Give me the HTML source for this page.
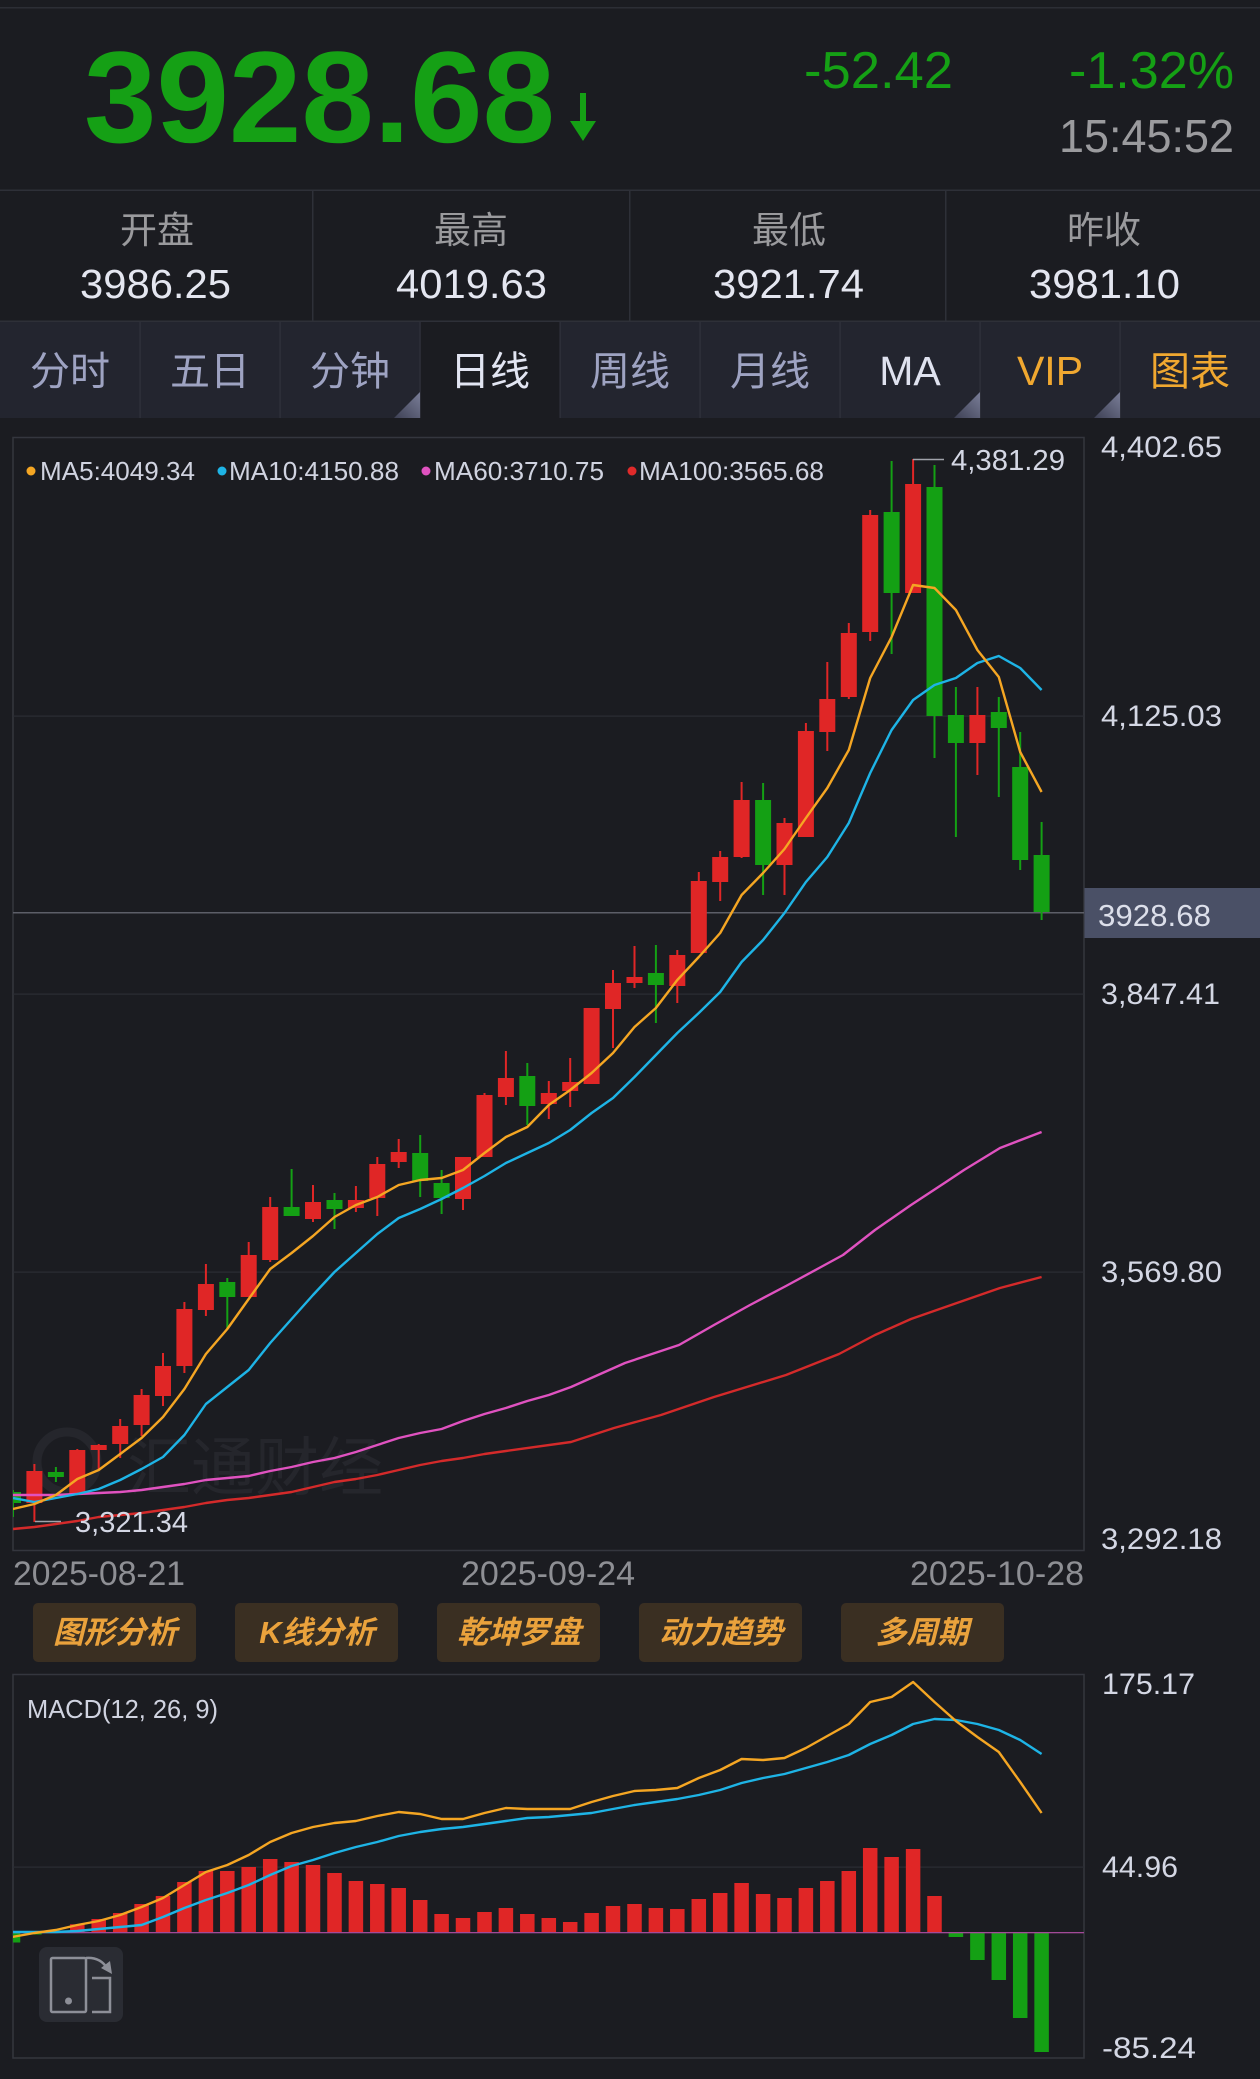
<!DOCTYPE html>
<html><head><meta charset="utf-8"><style>
html,body{margin:0;padding:0;background:#1b1c21;}
body{width:1260px;height:2079px;overflow:hidden;}
svg{display:block;}
text{font-family:"Liberation Sans","Noto Sans CJK SC",sans-serif;}
.cjk{font-family:"Noto Sans CJK SC","WenQuanYi Zen Hei",sans-serif;}
</style></head><body>
<svg width="1260" height="2079" viewBox="0 0 1260 2079" xmlns="http://www.w3.org/2000/svg">
<defs>
<clipPath id="main"><rect x="13" y="438" width="1071" height="1112"/></clipPath>
<clipPath id="macd"><rect x="13" y="1675" width="1071" height="383"/></clipPath>
<linearGradient id="tri" x1="0" y1="1" x2="1" y2="0"><stop offset="0" stop-color="#3d4054"/><stop offset="1" stop-color="#7a7e98"/></linearGradient>
</defs>
<rect x="0" y="0" width="1260" height="2079" fill="#1b1c21"/>
<!-- header -->
<rect x="0" y="7" width="1260" height="1.5" fill="#2c2e35"/>
<text x="84" y="142" font-size="130" font-weight="bold" fill="#15a015" textLength="471" lengthAdjust="spacingAndGlyphs">3928.68</text>
<rect x="580" y="93" width="6" height="32" fill="#15a015"/>
<polygon points="570,121 596,121 583,141" fill="#15a015"/>
<text x="804" y="88" font-size="52" fill="#15a015" textLength="149" lengthAdjust="spacingAndGlyphs">-52.42</text>
<text x="1069" y="88" font-size="52" fill="#15a015" textLength="165" lengthAdjust="spacingAndGlyphs">-1.32%</text>
<text x="1059" y="152" font-size="46" fill="#9b9b9e" textLength="175" lengthAdjust="spacingAndGlyphs">15:45:52</text>
<rect x="0" y="189.5" width="1260" height="1.5" fill="#2e3038"/>
<rect x="312" y="190" width="1.5" height="131" fill="#2e3038"/>
<rect x="629" y="190" width="1.5" height="131" fill="#2e3038"/>
<rect x="945" y="190" width="1.5" height="131" fill="#2e3038"/>
<g class="cjk" font-size="37" fill="#9a9a9d" text-anchor="middle">
<text x="157" y="243">开盘</text><text x="471" y="243">最高</text><text x="789" y="243">最低</text><text x="1104" y="243">昨收</text>
</g>
<g font-size="41" fill="#e4e6f0">
<text x="80" y="298" textLength="151" lengthAdjust="spacingAndGlyphs">3986.25</text>
<text x="396" y="298" textLength="151" lengthAdjust="spacingAndGlyphs">4019.63</text>
<text x="713" y="298" textLength="151" lengthAdjust="spacingAndGlyphs">3921.74</text>
<text x="1029" y="298" textLength="151" lengthAdjust="spacingAndGlyphs">3981.10</text>
</g>
<rect x="0" y="320.5" width="1260" height="1.5" fill="#2e3038"/>
<!-- tabs -->
<rect x="0" y="322" width="1260" height="96" fill="#23252f"/>
<rect x="420" y="322" width="140" height="96" fill="#1b1c21"/>
<g fill="#30323d">
<rect x="139.5" y="322" width="1.2" height="96"/><rect x="279.5" y="322" width="1.2" height="96"/><rect x="419.5" y="322" width="1.2" height="96"/><rect x="559.5" y="322" width="1.2" height="96"/><rect x="699.5" y="322" width="1.2" height="96"/><rect x="839.5" y="322" width="1.2" height="96"/><rect x="979.5" y="322" width="1.2" height="96"/><rect x="1119.5" y="322" width="1.2" height="96"/>
</g>
<polygon points="394,418 420,392 420,418" fill="url(#tri)"/>
<polygon points="954,418 980,392 980,418" fill="url(#tri)"/>
<polygon points="1094,418 1120,392 1120,418" fill="url(#tri)"/>
<g class="cjk" font-size="40" text-anchor="middle" fill="#9ea3c2">
<text x="70" y="385">分时</text><text x="210" y="385">五日</text><text x="350" y="385">分钟</text>
<text x="490" y="385" fill="#e2e5f2">日线</text>
<text x="630" y="385">周线</text><text x="770" y="385">月线</text>
</g>
<text x="910" y="385" font-size="41" text-anchor="middle" fill="#dfe2ef">MA</text>
<text x="1050" y="385" font-size="41" text-anchor="middle" fill="#f0a830">VIP</text>
<text x="1190" y="385" class="cjk" font-size="40" text-anchor="middle" fill="#f0a830">图表</text>

<!-- main chart frame -->
<rect x="13" y="437.5" width="1071" height="1113" fill="none" stroke="#34363e" stroke-width="1.5"/>
<g fill="#2b2d34">
<rect x="13" y="715.5" width="1071" height="1.2"/><rect x="13" y="993.5" width="1071" height="1.2"/><rect x="13" y="1271.5" width="1071" height="1.2"/>
</g>
<!-- watermark -->
<circle cx="67" cy="1462" r="30" fill="none" stroke="#25262c" stroke-width="9"/>
<text x="127" y="1490" class="cjk" font-size="64" fill="#25262c">汇通财经</text>
<rect x="13" y="912" width="1071" height="1.5" fill="#5c5e68"/>

<g clip-path="url(#main)">
<g fill="#e02626">
<rect x="33.4" y="1464" width="2" height="58"/><rect x="26.4" y="1471" width="16" height="32"/>
<rect x="76.3" y="1449" width="2" height="45"/><rect x="69.3" y="1450" width="16" height="44"/>
<rect x="97.7" y="1444" width="2" height="25"/><rect x="90.7" y="1445" width="16" height="5"/>
<rect x="119.2" y="1419" width="2" height="39"/><rect x="112.2" y="1426" width="16" height="18"/>
<rect x="140.6" y="1389" width="2" height="47"/><rect x="133.6" y="1395" width="16" height="30"/>
<rect x="162" y="1353" width="2" height="53"/><rect x="155" y="1366" width="16" height="30"/>
<rect x="183.4" y="1302" width="2" height="71"/><rect x="176.4" y="1309" width="16" height="57"/>
<rect x="204.9" y="1264" width="2" height="52"/><rect x="197.9" y="1284" width="16" height="26"/>
<rect x="247.7" y="1242" width="2" height="55"/><rect x="240.7" y="1255" width="16" height="42"/>
<rect x="269.2" y="1197" width="2" height="65"/><rect x="262.2" y="1207" width="16" height="53"/>
<rect x="312" y="1185" width="2" height="37"/><rect x="305" y="1202" width="16" height="17"/>
<rect x="354.9" y="1186" width="2" height="26"/><rect x="347.9" y="1200" width="16" height="8"/>
<rect x="376.3" y="1157" width="2" height="59"/><rect x="369.3" y="1164" width="16" height="34"/>
<rect x="397.7" y="1139" width="2" height="29"/><rect x="390.7" y="1152" width="16" height="10"/>
<rect x="462" y="1157" width="2" height="53"/><rect x="455" y="1157" width="16" height="42"/>
<rect x="483.5" y="1093" width="2" height="64"/><rect x="476.5" y="1095" width="16" height="62"/>
<rect x="504.9" y="1051" width="2" height="54"/><rect x="497.9" y="1078" width="16" height="19"/>
<rect x="547.8" y="1081" width="2" height="38"/><rect x="540.8" y="1093" width="16" height="11"/>
<rect x="569.2" y="1058" width="2" height="49"/><rect x="562.2" y="1082" width="16" height="9"/>
<rect x="590.6" y="1008" width="2" height="76"/><rect x="583.6" y="1008" width="16" height="76"/>
<rect x="612" y="970" width="2" height="78"/><rect x="605" y="983" width="16" height="26"/>
<rect x="633.5" y="946" width="2" height="42"/><rect x="626.5" y="977" width="16" height="6"/>
<rect x="676.3" y="950" width="2" height="53"/><rect x="669.3" y="955" width="16" height="31"/>
<rect x="697.8" y="872" width="2" height="81"/><rect x="690.8" y="881" width="16" height="72"/>
<rect x="719.2" y="851" width="2" height="50"/><rect x="712.2" y="857" width="16" height="25"/>
<rect x="740.6" y="782" width="2" height="76"/><rect x="733.6" y="800" width="16" height="57"/>
<rect x="783.5" y="818" width="2" height="77"/><rect x="776.5" y="823" width="16" height="42"/>
<rect x="804.9" y="723" width="2" height="114"/><rect x="797.9" y="731" width="16" height="106"/>
<rect x="826.3" y="662" width="2" height="89"/><rect x="819.3" y="699" width="16" height="33"/>
<rect x="847.8" y="623" width="2" height="76"/><rect x="840.8" y="633" width="16" height="64"/>
<rect x="869.2" y="510" width="2" height="131"/><rect x="862.2" y="515" width="16" height="117"/>
<rect x="912.1" y="459" width="2" height="134"/><rect x="905.1" y="484" width="16" height="109"/>
<rect x="976.4" y="687" width="2" height="88"/><rect x="969.4" y="715" width="16" height="28"/>
</g>
<g fill="#14a014">
<rect x="12" y="1490" width="2" height="27"/><rect x="5" y="1492" width="16" height="11"/>
<rect x="54.9" y="1467" width="2" height="15"/><rect x="47.9" y="1472" width="16" height="5"/>
<rect x="226.3" y="1278" width="2" height="51"/><rect x="219.3" y="1282" width="16" height="15"/>
<rect x="290.6" y="1169" width="2" height="47"/><rect x="283.6" y="1207" width="16" height="9"/>
<rect x="333.5" y="1193" width="2" height="36"/><rect x="326.5" y="1200" width="16" height="9"/>
<rect x="419.2" y="1135" width="2" height="62"/><rect x="412.2" y="1153" width="16" height="28"/>
<rect x="440.6" y="1170" width="2" height="44"/><rect x="433.6" y="1183" width="16" height="15"/>
<rect x="526.3" y="1063" width="2" height="62"/><rect x="519.3" y="1076" width="16" height="30"/>
<rect x="654.9" y="945" width="2" height="78"/><rect x="647.9" y="973" width="16" height="12"/>
<rect x="762.1" y="783" width="2" height="112"/><rect x="755.1" y="800" width="16" height="65"/>
<rect x="890.6" y="461" width="2" height="193"/><rect x="883.6" y="512" width="16" height="81"/>
<rect x="933.5" y="465" width="2" height="293"/><rect x="926.5" y="487" width="16" height="229"/>
<rect x="954.9" y="687" width="2" height="150"/><rect x="947.9" y="715" width="16" height="28"/>
<rect x="997.8" y="697" width="2" height="100"/><rect x="990.8" y="712" width="16" height="16"/>
<rect x="1019.2" y="732" width="2" height="138"/><rect x="1012.2" y="767" width="16" height="93"/>
<rect x="1040.6" y="822" width="2" height="98"/><rect x="1033.6" y="855" width="16" height="57"/>
</g>
<g fill="none" stroke-width="2.4" stroke-linejoin="round">
<polyline stroke="#d42a2a" points="13,1529 34.4,1527 55.9,1524 77.3,1521 98.7,1517 120.2,1515 141.6,1513 163,1510 184.4,1507 205.9,1503 227.3,1500 248.7,1498 270.2,1495 291.6,1492 313,1487 334.5,1482 355.9,1479 377.3,1475 398.7,1470 420.2,1465 441.6,1461 463,1458 484.5,1454 505.9,1451 571,1442 614,1428 661,1415 714,1397 786,1375 839,1354 875,1335 911,1319 954,1304 1000,1288 1041.6,1277"/>
<polyline stroke="#e052c0" points="13,1495 34.4,1495 55.9,1495 77.3,1494 98.7,1493 120.2,1492 141.6,1490 163,1487 184.4,1484 205.9,1480 227.3,1478 248.7,1476 270.2,1471 291.6,1467 313,1462 334.5,1458 355.9,1452 377.3,1445 398.7,1438 420.2,1433 441.6,1429 463,1421 484.5,1414 505.9,1408 527.3,1401 548.8,1395 571,1387 625,1363 679,1345 714,1325 750,1305 786,1286 821,1267 843,1255 875,1230 911,1205 946,1182 964,1170 1000,1148 1041.6,1132"/>
<polyline stroke="#1eb4e6" points="13,1498 34.4,1502 55.9,1498 77.3,1494 98.7,1489 120.2,1480 141.6,1469 163,1457 184.4,1435 205.9,1404 227.3,1387 248.7,1370 270.2,1343 291.6,1319 313,1295 334.5,1272 355.9,1253 377.3,1234 398.7,1218 420.2,1209 441.6,1199 463,1188 484.5,1176 505.9,1163 527.3,1153 548.8,1143 570.2,1130 591.6,1113 613,1098 634.5,1077 655.9,1055 677.3,1033 698.8,1013 720.2,992 741.6,962 763.1,940 784.5,913 805.9,882 827.3,857 848.8,823 870.2,773 891.6,730 913.1,700 934.5,685 955.9,678 977.4,663 998.8,656 1020.2,668 1041.6,690"/>
<polyline stroke="#f5a623" points="13,1509 34.4,1504 55.9,1495 77.3,1479 98.7,1470 120.2,1454 141.6,1438 163,1417 184.4,1389 205.9,1354 227.3,1329 248.7,1299 270.2,1269 291.6,1253 313,1236 334.5,1217 355.9,1205 377.3,1197 398.7,1185 420.2,1180 441.6,1178 463,1170 484.5,1153 505.9,1137 527.3,1127 548.8,1105 570.2,1090 591.6,1073 613,1053 634.5,1027 655.9,1008 677.3,980 698.8,957 720.2,933 741.6,895 763.1,873 784.5,849 805.9,818 827.3,788 848.8,750 870.2,678 891.6,637 913.1,585 934.5,588 955.9,610 977.4,650 998.8,677 1020.2,752 1041.6,792"/>
</g>
</g>
<!-- high / low markers -->
<line x1="913" y1="459.5" x2="944" y2="459.5" stroke="#a0a2aa" stroke-width="1.5"/>
<text x="951" y="470" font-size="29" fill="#d4d7e4" textLength="114" lengthAdjust="spacingAndGlyphs">4,381.29</text>
<line x1="35" y1="1521.5" x2="61" y2="1521.5" stroke="#a0a2aa" stroke-width="1.5"/>
<text x="75" y="1532" font-size="29" fill="#d4d7e4" textLength="113" lengthAdjust="spacingAndGlyphs">3,321.34</text>
<!-- legend -->
<circle cx="31" cy="471" r="4.5" fill="#f5a623"/>
<circle cx="222" cy="471" r="4.5" fill="#1eb4e6"/>
<circle cx="426" cy="471" r="4.5" fill="#e052c0"/>
<circle cx="632" cy="471" r="4.5" fill="#e02a2a"/>
<g font-size="26" fill="#d0d3e0">
<text x="40" y="480" textLength="155" lengthAdjust="spacingAndGlyphs">MA5:4049.34</text>
<text x="229" y="480" textLength="170" lengthAdjust="spacingAndGlyphs">MA10:4150.88</text>
<text x="434" y="480" textLength="170" lengthAdjust="spacingAndGlyphs">MA60:3710.75</text>
<text x="639" y="480" textLength="185" lengthAdjust="spacingAndGlyphs">MA100:3565.68</text>
</g>
<!-- y axis -->
<rect x="1084.5" y="888" width="175.5" height="50" fill="#4a5066"/>
<text x="1098" y="926" font-size="31" fill="#dcdfea" textLength="113" lengthAdjust="spacingAndGlyphs">3928.68</text>
<g font-size="30" fill="#d4d7e4">
<text x="1101" y="457" textLength="121" lengthAdjust="spacingAndGlyphs">4,402.65</text>
<text x="1101" y="726" textLength="121" lengthAdjust="spacingAndGlyphs">4,125.03</text>
<text x="1101" y="1004" textLength="119" lengthAdjust="spacingAndGlyphs">3,847.41</text>
<text x="1101" y="1282" textLength="121" lengthAdjust="spacingAndGlyphs">3,569.80</text>
<text x="1101" y="1549" textLength="121" lengthAdjust="spacingAndGlyphs">3,292.18</text>
</g>
<!-- x axis -->
<g font-size="34" fill="#8e8f94">
<text x="13" y="1585" textLength="172" lengthAdjust="spacingAndGlyphs">2025-08-21</text>
<text x="461" y="1585" textLength="174" lengthAdjust="spacingAndGlyphs">2025-09-24</text>
<text x="910" y="1585" textLength="174" lengthAdjust="spacingAndGlyphs">2025-10-28</text>
</g>
<!-- buttons -->
<g fill="#3a2f22">
<rect x="33" y="1603" width="163" height="59" rx="5"/>
<rect x="235" y="1603" width="163" height="59" rx="5"/>
<rect x="437" y="1603" width="163" height="59" rx="5"/>
<rect x="639" y="1603" width="163" height="59" rx="5"/>
<rect x="841" y="1603" width="163" height="59" rx="5"/>
</g>
<g class="cjk" font-size="31" font-weight="bold" font-style="italic" fill="#eaa23c" text-anchor="middle">
<text x="115" y="1643">图形分析</text>
<text x="317" y="1643">K线分析</text>
<text x="519" y="1643">乾坤罗盘</text>
<text x="721" y="1643">动力趋势</text>
<text x="922" y="1643">多周期</text>
</g>
<!-- MACD -->
<rect x="13" y="1674.5" width="1071" height="383.5" fill="none" stroke="#34363e" stroke-width="1.5"/>
<rect x="13" y="1866.5" width="1071" height="1.2" fill="#2b2d34"/>
<text x="27" y="1718" font-size="26" fill="#d0d3e0" textLength="191" lengthAdjust="spacingAndGlyphs">MACD(12, 26, 9)</text>
<g clip-path="url(#macd)">
<g fill="#e02626">
<rect x="48.65" y="1931" width="14.5" height="1.5"/>
<rect x="70.05" y="1924.3" width="14.5" height="8.2"/>
<rect x="91.45" y="1919" width="14.5" height="13.5"/>
<rect x="112.95" y="1913" width="14.5" height="19.5"/>
<rect x="134.35" y="1904" width="14.5" height="28.5"/>
<rect x="155.75" y="1896" width="14.5" height="36.5"/>
<rect x="177.15" y="1882" width="14.5" height="50.5"/>
<rect x="198.65" y="1871" width="14.5" height="61.5"/>
<rect x="220.05" y="1871" width="14.5" height="61.5"/>
<rect x="241.45" y="1867" width="14.5" height="65.5"/>
<rect x="262.95" y="1859" width="14.5" height="73.5"/>
<rect x="284.35" y="1862" width="14.5" height="70.5"/>
<rect x="305.75" y="1865" width="14.5" height="67.5"/>
<rect x="327.25" y="1873" width="14.5" height="59.5"/>
<rect x="348.65" y="1881" width="14.5" height="51.5"/>
<rect x="370.05" y="1884" width="14.5" height="48.5"/>
<rect x="391.45" y="1888" width="14.5" height="44.5"/>
<rect x="412.95" y="1900" width="14.5" height="32.5"/>
<rect x="434.35" y="1914" width="14.5" height="18.5"/>
<rect x="455.75" y="1918" width="14.5" height="14.5"/>
<rect x="477.25" y="1912" width="14.5" height="20.5"/>
<rect x="498.65" y="1908" width="14.5" height="24.5"/>
<rect x="520.05" y="1914" width="14.5" height="18.5"/>
<rect x="541.55" y="1918" width="14.5" height="14.5"/>
<rect x="562.95" y="1922" width="14.5" height="10.5"/>
<rect x="584.35" y="1913" width="14.5" height="19.5"/>
<rect x="605.75" y="1906" width="14.5" height="26.5"/>
<rect x="627.25" y="1904" width="14.5" height="28.5"/>
<rect x="648.65" y="1908" width="14.5" height="24.5"/>
<rect x="670.05" y="1909" width="14.5" height="23.5"/>
<rect x="691.55" y="1899" width="14.5" height="33.5"/>
<rect x="712.95" y="1893" width="14.5" height="39.5"/>
<rect x="734.35" y="1883" width="14.5" height="49.5"/>
<rect x="755.85" y="1894" width="14.5" height="38.5"/>
<rect x="777.25" y="1898" width="14.5" height="34.5"/>
<rect x="798.65" y="1888" width="14.5" height="44.5"/>
<rect x="820.05" y="1881" width="14.5" height="51.5"/>
<rect x="841.55" y="1871" width="14.5" height="61.5"/>
<rect x="862.95" y="1848" width="14.5" height="84.5"/>
<rect x="884.35" y="1857" width="14.5" height="75.5"/>
<rect x="905.85" y="1849" width="14.5" height="83.5"/>
<rect x="927.25" y="1896" width="14.5" height="36.5"/>
</g>
<g fill="#14a014">
<rect x="5.75" y="1932.5" width="14.5" height="10"/>
<rect x="27.15" y="1932.5" width="14.5" height="2"/>
<rect x="948.65" y="1932.5" width="14.5" height="4.5"/>
<rect x="970.15" y="1932.5" width="14.5" height="27.5"/>
<rect x="991.55" y="1932.5" width="14.5" height="47.5"/>
<rect x="1012.95" y="1932.5" width="14.5" height="85.5"/>
<rect x="1034.35" y="1932.5" width="14.5" height="119.5"/>
</g>
<rect x="13" y="1932" width="1071" height="1.3" fill="#a24a98"/>
<g fill="none" stroke-width="2.4" stroke-linejoin="round">
<polyline stroke="#1eb4e6" points="12,1932 34.4,1932 55.9,1932 77.3,1931 98.7,1929 120.2,1927 141.6,1925 163,1917 184.4,1908 205.9,1900 227.3,1893 248.7,1885 270.2,1875 291.6,1866 313,1860 334.5,1853 355.9,1847 377.3,1842 398.7,1836 420.2,1832 441.6,1829 463,1827 484.5,1824 505.9,1821 527.3,1818 548.8,1817 570.2,1815 591.6,1813 613,1809 634.5,1805 655.9,1802 677.3,1799 698.8,1795 720.2,1790 741.6,1783 763.1,1778 784.5,1774 805.9,1768 827.3,1762 848.8,1755 870.2,1744 891.6,1735 913.1,1724 934.5,1719 955.9,1720 977.4,1724 998.8,1730 1020.2,1740 1041.6,1754"/>
<polyline stroke="#f5a623" points="12,1937 34.4,1933 55.9,1930 77.3,1925 98.7,1921 120.2,1915 141.6,1907 163,1898 184.4,1885 205.9,1872 227.3,1865 248.7,1855 270.2,1842 291.6,1833 313,1827 334.5,1823 355.9,1821 377.3,1816 398.7,1812 420.2,1814 441.6,1819 463,1819 484.5,1813 505.9,1808 527.3,1809 548.8,1809 570.2,1809 591.6,1802 613,1796 634.5,1791 655.9,1790 677.3,1788 698.8,1778 720.2,1770 741.6,1759 763.1,1760 784.5,1758 805.9,1748 827.3,1736 848.8,1724 870.2,1702 891.6,1697 913.1,1682 934.5,1702 955.9,1721 977.4,1737 998.8,1752 1020.2,1782 1041.6,1813"/>
</g>
</g>
<g font-size="30" fill="#d4d7e4">
<text x="1102" y="1694" textLength="93" lengthAdjust="spacingAndGlyphs">175.17</text>
<text x="1102" y="1877" textLength="76" lengthAdjust="spacingAndGlyphs">44.96</text>
<text x="1102" y="2058" textLength="94" lengthAdjust="spacingAndGlyphs">-85.24</text>
</g>
<!-- rotate icon -->
<rect x="39" y="1947" width="84" height="75" rx="8" fill="#2a2c33"/>
<g fill="none" stroke="#8d8f98" stroke-width="2.5">
<rect x="51" y="1958" width="35" height="54" rx="1.5"/>
<path d="M92,1978 H110 V2012 H92"/>
<path d="M86,1958 Q100,1957 107,1968"/>
</g>
<circle cx="68.5" cy="2001" r="3.5" fill="#8d8f98"/>
<polygon points="101,1968 112,1974 110,1961" fill="#8d8f98"/>
</svg>
</body></html>
